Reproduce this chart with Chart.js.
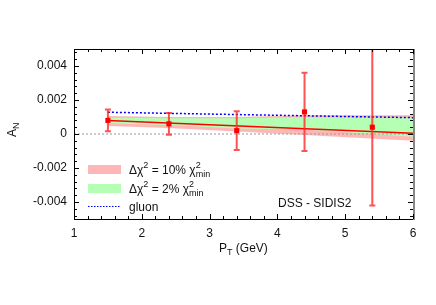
<!DOCTYPE html>
<html>
<head>
<meta charset="utf-8">
<script src="https://cdn.jsdelivr.net/npm/chart.js@4.4.1/dist/chart.umd.min.js"></script>
<style>
  html, body { margin: 0; padding: 0; background: #fff; }
  #chart { display: block; }
</style>
</head>
<body>
<canvas id="chart" width="436" height="305"></canvas>
<script>
// measured points (pT, A_N, symmetric error)
const ptPoints = [1.5, 2.4, 3.4, 4.4, 5.4];
const anValues = [0.0008, 0.0006, 0.0002, 0.0013, 0.0004];
const anErrors = [0.00064, 0.00064, 0.00114, 0.0023, 0.0046];

// theory curve + uncertainty bands
const ptCurve = [1.5, 6];
const anCurve = [0.0008, 0.00004];
const gluonCurve = [0.00128, 0.00096];

const ptBand = [1.5, 2.4, 3.4, 4.4, 6];
const pinkUpper = [0.00106, 0.0010, 0.0010, 0.0011, 0.0011];
const pinkLower = [0.00047, 0.00035, 0.00014, -0.00006, -0.0004];
const greenUpper = [0.00096, 0.00092, 0.00092, 0.00098, 0.00096];
const greenLower = [0.00063, 0.00053, 0.00033, 0.00027, -0.00016];

const xTicks = [1, 2, 3, 4, 5, 6];
const yTicks = [-0.004, -0.002, 0, 0.002, 0.004];

const FONT = 'Liberation Sans, Arial, Helvetica, sans-serif';
const zip = (xs, ys) => xs.map((x, i) => ({ x: x, y: ys[i] }));

// draws a run of text pieces, each with its own size and vertical offset
function drawPieces(ctx, x, y, pieces) {
  ctx.textBaseline = 'alphabetic';
  ctx.textAlign = 'left';
  pieces.forEach(p => {
    if (p.stack) {
      let w = 0;
      p.stack.forEach(s => {
        ctx.font = s.size + 'px ' + FONT;
        ctx.fillText(s.text, x, y + s.dy);
        w = Math.max(w, ctx.measureText(s.text).width);
      });
      x += w;
    } else {
      ctx.font = p.size + 'px ' + FONT;
      ctx.fillText(p.text, x, y + (p.dy || 0));
      x += ctx.measureText(p.text).width;
    }
  });
}

const decorations = {
  id: 'decorations',
  beforeDatasetDraw(chart, args) {
    if (args.index !== 0) return;
    const ctx = chart.ctx, xs = chart.scales.x, ys = chart.scales.y, a = chart.chartArea;
    ctx.save();
    ctx.beginPath();
    ctx.rect(a.left, a.top, a.right - a.left, a.bottom - a.top);
    ctx.clip();
    ctx.strokeStyle = 'rgba(255,40,40,0.8)';
    ctx.lineWidth = 2;
    ptPoints.forEach((pt, i) => {
      const px = xs.getPixelForValue(pt);
      const top = ys.getPixelForValue(anValues[i] + anErrors[i]);
      const bot = ys.getPixelForValue(anValues[i] - anErrors[i]);
      ctx.beginPath();
      ctx.moveTo(px, top); ctx.lineTo(px, bot);
      ctx.moveTo(px - 3, top); ctx.lineTo(px + 3, top);
      ctx.moveTo(px - 3, bot); ctx.lineTo(px + 3, bot);
      ctx.stroke();
    });
    ctx.restore();
  },
  afterDraw(chart) {
    const ctx = chart.ctx, xs = chart.scales.x, ys = chart.scales.y, a = chart.chartArea;
    ctx.save();
    // frame
    ctx.strokeStyle = '#000';
    ctx.lineWidth = 1;
    ctx.strokeRect(Math.round(a.left) + 0.5, Math.round(a.top) + 0.5,
      Math.round(a.right - a.left), Math.round(a.bottom - a.top));
    ctx.strokeStyle = '#888';
    ctx.lineWidth = 2;
    ctx.beginPath();
    ctx.moveTo(Math.round(a.right) + 1, a.top);
    ctx.lineTo(Math.round(a.right) + 1, a.bottom + 1);
    ctx.stroke();

    // inward ticks
    ctx.strokeStyle = '#000';
    ctx.lineWidth = 1;
    ctx.beginPath();
    for (let k = 0; k <= 25; k++) {
      const v = 1 + k * 0.2;
      const px = Math.round(xs.getPixelForValue(v)) + 0.5;
      const len = k % 5 === 0 ? 5 : 3;
      ctx.moveTo(px, a.bottom); ctx.lineTo(px, a.bottom - len);
      ctx.moveTo(px, a.top); ctx.lineTo(px, a.top + len);
    }
    for (let k = -12; k <= 12; k++) {
      const v = k * 0.0004;
      const py = Math.round(ys.getPixelForValue(v)) + 0.5;
      const len = k % 5 === 0 ? 5 : 3;
      ctx.moveTo(a.left, py); ctx.lineTo(a.left + len, py);
      ctx.moveTo(a.right, py); ctx.lineTo(a.right - len, py);
    }
    ctx.stroke();

    // legend
    const lx = 88, lw = 33;
    ctx.fillStyle = '#ffb6b6';
    ctx.fillRect(lx, 165, lw, 9);
    ctx.fillStyle = '#b4ffb4';
    ctx.fillRect(lx, 184, lw, 9);
    ctx.strokeStyle = '#0000ff';
    ctx.lineWidth = 1;
    ctx.setLineDash([1.5, 1.5]);
    ctx.beginPath();
    ctx.moveTo(lx, 206.5); ctx.lineTo(lx + lw, 206.5);
    ctx.stroke();
    ctx.setLineDash([]);

    ctx.fillStyle = '#111';
    const chiText = pct => [
      { text: 'Δχ', size: 12 },
      { text: '2', size: 9, dy: -6 },
      { text: ' = ' + pct + ' χ', size: 12 },
      { stack: [{ text: '2', size: 9, dy: -6 }, { text: 'min', size: 9, dy: 3 }] }
    ];
    drawPieces(ctx, 129, 174, chiText('10%'));
    drawPieces(ctx, 129, 193, chiText('2%'));
    drawPieces(ctx, 129, 211, [{ text: 'gluon', size: 12 }]);
    drawPieces(ctx, 278, 207, [{ text: 'DSS - SIDIS2', size: 12 }]);

    // axis titles
    drawPieces(ctx, 219, 252, [
      { text: 'P', size: 12 }, { text: 'T', size: 9, dy: 3 }, { text: ' (GeV)', size: 12 }
    ]);
    ctx.translate(16, 137);
    ctx.rotate(-Math.PI / 2);
    drawPieces(ctx, 0, 0, [{ text: 'A', size: 12 }, { text: 'N', size: 9, dy: 3 }]);
    ctx.restore();
  }
};

const lineDefaults = { showLine: true, pointRadius: 0, tension: 0 };

new Chart(document.getElementById('chart'), {
  type: 'scatter',
  data: {
    datasets: [
      { label: 'data', data: zip(ptPoints, anValues), pointStyle: 'rect', pointRadius: 3.6,
        backgroundColor: '#ff0000', borderColor: '#ff0000', borderWidth: 0, order: 0 },
      Object.assign({ label: 'fit', data: zip(ptCurve, anCurve), borderColor: '#ff0000',
        borderWidth: 1.5, order: 1 }, lineDefaults),
      Object.assign({ label: 'gluon', data: zip(ptCurve, gluonCurve), borderColor: '#0000ff',
        borderWidth: 1.5, borderDash: [2, 2], order: 2 }, lineDefaults),
      Object.assign({ label: 'zero', data: zip([1, 6], [0, 0]), borderColor: '#999',
        borderWidth: 1, borderDash: [2, 2], order: 3 }, lineDefaults),
      Object.assign({ label: 'green up', data: zip(ptBand, greenUpper), borderWidth: 0,
        backgroundColor: '#b4ffb4', fill: 5, order: 4 }, lineDefaults),
      Object.assign({ label: 'green low', data: zip(ptBand, greenLower), borderWidth: 0,
        fill: false, order: 5 }, lineDefaults),
      Object.assign({ label: 'pink up', data: zip(ptBand, pinkUpper), borderWidth: 0,
        backgroundColor: '#ffb6b6', fill: 7, order: 6 }, lineDefaults),
      Object.assign({ label: 'pink low', data: zip(ptBand, pinkLower), borderWidth: 0,
        fill: false, order: 7 }, lineDefaults)
    ]
  },
  options: {
    responsive: false,
    animation: false,
    events: [],
    layout: { padding: { top: 49, right: 23, left: 0, bottom: 0 } },
    plugins: { legend: { display: false }, tooltip: { enabled: false } },
    scales: {
      x: {
        type: 'linear', min: 1, max: 6,
        afterFit: s => { s.height = 86; },
        afterBuildTicks: s => { s.ticks = xTicks.map(v => ({ value: v })); },
        border: { display: false },
        grid: { display: true, drawOnChartArea: false, drawTicks: false, color: 'rgba(0,0,0,0)' },
        ticks: { color: '#111', padding: 7, font: { family: FONT, size: 12 } }
      },
      y: {
        min: -0.005, max: 0.005,
        afterFit: s => { s.width = 74; },
        afterBuildTicks: s => { s.ticks = yTicks.map(v => ({ value: v })); },
        border: { display: false },
        grid: { display: true, drawOnChartArea: false, drawTicks: false, color: 'rgba(0,0,0,0)' },
        ticks: {
          color: '#111', padding: 7, font: { family: FONT, size: 12 },
          callback: v => (Math.abs(v) < 1e-9 ? '0' : v.toFixed(3))
        }
      }
    }
  },
  plugins: [decorations]
});
</script>
</body>
</html>
